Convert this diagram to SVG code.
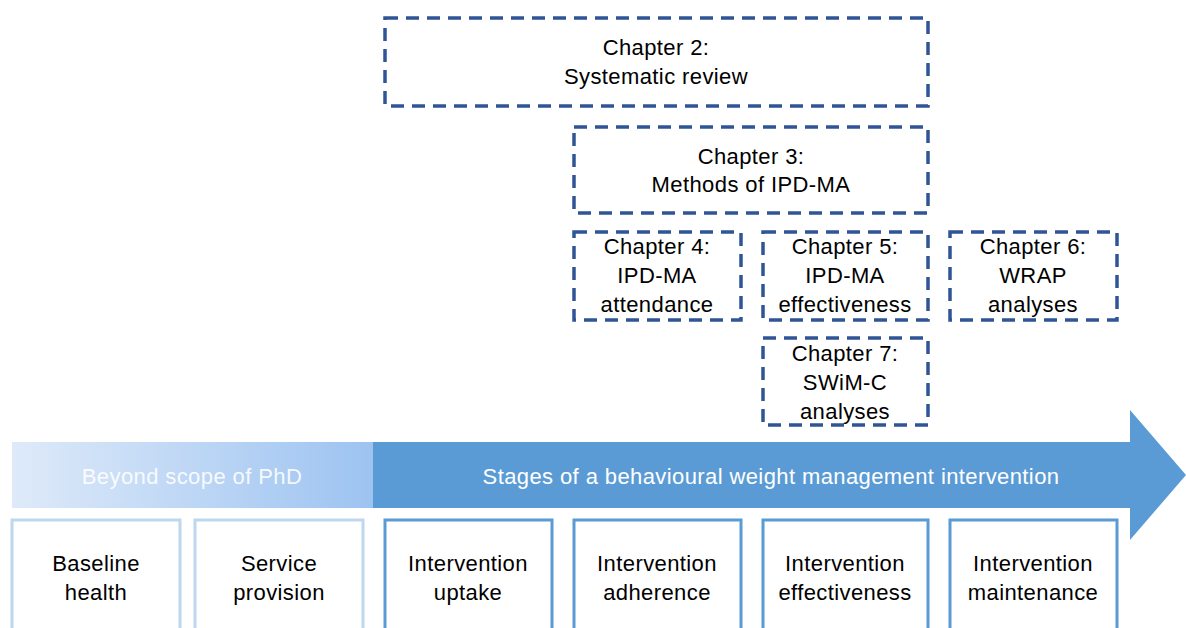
<svg xmlns="http://www.w3.org/2000/svg" width="1186" height="628" viewBox="0 0 1186 628">
<defs>
<linearGradient id="g1" x1="0" y1="0" x2="1" y2="0">
<stop offset="0" stop-color="#deeaf9"/>
<stop offset="1" stop-color="#9dc3f1"/>
</linearGradient>
</defs>
<style>
.ch{fill:#fff;stroke:#2f5597;stroke-width:3.5;stroke-dasharray:13 8}
.t{font-family:"Liberation Sans",Arial,sans-serif;font-size:22px;letter-spacing:0.4px;fill:#000;text-anchor:middle}
.w{font-family:"Liberation Sans",Arial,sans-serif;font-size:22px;letter-spacing:0.4px;fill:#fff;text-anchor:middle}
.sl{fill:#fff;stroke:#bdd7ee;stroke-width:3}
.sd{fill:#fff;stroke:#5b9bd5;stroke-width:3}
</style>
<g id="arrow">
<polygon points="373,442 1130,442 1130,410 1186,475 1130,540 1130,508 373,508" fill="#5b9bd5"/>
<rect x="12" y="442" width="361" height="66" fill="url(#g1)"/>
<text class="w" x="192" y="484" fill-opacity="0.9">Beyond scope of PhD</text>
<text class="w" x="771" y="484">Stages of a behavioural weight management intervention</text>
</g>
<g id="ch2"><rect class="ch" x="385" y="18" width="543" height="88"/><text class="t" x="656" y="55">Chapter 2:</text><text class="t" x="656" y="84">Systematic review</text></g>
<g id="ch3"><rect class="ch" x="574" y="127" width="354" height="86"/><text class="t" x="751" y="164">Chapter 3:</text><text class="t" x="751" y="192">Methods of IPD-MA</text></g>
<g id="ch4"><rect class="ch" x="574" y="232" width="167" height="88"/><text class="t" x="657" y="254">Chapter 4:</text><text class="t" x="657" y="283">IPD-MA</text><text class="t" x="657" y="312">attendance</text></g>
<g id="ch5"><rect class="ch" x="763" y="232" width="165" height="88"/><text class="t" x="845" y="254">Chapter 5:</text><text class="t" x="845" y="283">IPD-MA</text><text class="t" x="845" y="312">effectiveness</text></g>
<g id="ch6"><rect class="ch" x="950" y="232" width="167" height="88"/><text class="t" x="1033" y="254">Chapter 6:</text><text class="t" x="1033" y="283">WRAP</text><text class="t" x="1033" y="312">analyses</text></g>
<g id="ch7"><rect class="ch" x="763" y="338" width="165" height="87"/><text class="t" x="845" y="361">Chapter 7:</text><text class="t" x="845" y="390">SWiM-C</text><text class="t" x="845" y="419">analyses</text></g>
<g id="s1"><rect class="sl" x="12" y="520" width="168" height="120"/><text class="t" x="96" y="571">Baseline</text><text class="t" x="96" y="600">health</text></g>
<g id="s2"><rect class="sl" x="195" y="520" width="168" height="120"/><text class="t" x="279" y="571">Service</text><text class="t" x="279" y="600">provision</text></g>
<g id="s3"><rect class="sd" x="385" y="520" width="167" height="120"/><text class="t" x="468" y="571">Intervention</text><text class="t" x="468" y="600">uptake</text></g>
<g id="s4"><rect class="sd" x="574" y="520" width="167" height="120"/><text class="t" x="657" y="571">Intervention</text><text class="t" x="657" y="600">adherence</text></g>
<g id="s5"><rect class="sd" x="763" y="520" width="165" height="120"/><text class="t" x="845" y="571">Intervention</text><text class="t" x="845" y="600">effectiveness</text></g>
<g id="s6"><rect class="sd" x="950" y="520" width="167" height="120"/><text class="t" x="1033" y="571">Intervention</text><text class="t" x="1033" y="600">maintenance</text></g>
<g id="connectors"></g>
</svg>
